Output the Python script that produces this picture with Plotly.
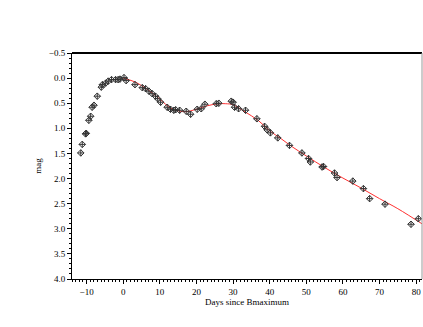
import plotly.graph_objects as go

# observed photometry (days since B maximum, magnitude)
days = [-11.6, -11.2, -10.3, -10.1, -9.4, -8.9, -8.5, -8.0, -7.1, -6.0, -5.7, -4.8,
        -4.1, -3.2, -2.1, -1.4, -0.9, 0.2, 0.8, 3.2, 5.2, 6.1, 7.0, 7.9, 8.8, 9.4,
        10.2, 12.0, 12.9, 13.8, 14.3, 15.4, 17.2, 18.4, 20.2, 21.3, 22.3, 25.4,
        26.1, 29.5, 30.0, 30.4, 31.5, 33.4, 36.5, 38.6, 39.3, 40.2, 42.2, 45.4,
        48.8, 50.6, 51.1, 54.3, 54.7, 57.7, 58.4, 62.7, 65.6, 67.3, 71.5, 78.6, 80.6]
mags = [1.49, 1.32, 1.11, 1.10, 0.84, 0.76, 0.58, 0.54, 0.36, 0.18, 0.13, 0.10,
        0.06, 0.03, 0.03, 0.03, 0.02, -0.01, 0.05, 0.13, 0.19, 0.21, 0.26, 0.31, 0.36, 0.41,
        0.48, 0.58, 0.62, 0.64, 0.63, 0.64, 0.66, 0.72, 0.62, 0.61, 0.52, 0.51,
        0.50, 0.46, 0.48, 0.58, 0.61, 0.64, 0.81, 0.96, 1.03, 1.09, 1.19, 1.34,
        1.49, 1.60, 1.67, 1.77, 1.76, 1.89, 1.98, 2.05, 2.20, 2.40, 2.51, 2.91, 2.80]

# template fit
fit_days = [0, 3, 5, 8, 10, 13, 15, 17, 20, 23, 26, 28, 30, 33, 37, 40, 43, 46, 50, 55,
            60, 65, 70, 75, 82]
fit_mags = [0.0, 0.07, 0.15, 0.30, 0.42, 0.60, 0.65, 0.67, 0.62, 0.55, 0.51, 0.51, 0.53,
            0.66, 0.85, 1.05, 1.20, 1.36, 1.55, 1.78, 1.99, 2.19, 2.40, 2.60, 2.92]

fig = go.Figure()
fig.add_trace(go.Scatter(x=fit_days, y=fit_mags, mode="lines",
                         line=dict(color="#ff3030", width=1), line_shape="spline",
                         showlegend=False))
fig.add_trace(go.Scatter(x=days, y=mags, mode="markers",
                         marker=dict(symbol="diamond-cross-open", size=5,
                                     color="#333333", line=dict(width=1)),
                         showlegend=False))

font = dict(family="Liberation Serif", size=9, color="black")
fig.update_layout(
    width=423, height=327,
    margin=dict(l=72, r=1, t=53, b=48, autoexpand=False),
    plot_bgcolor="white", paper_bgcolor="white",
    font=font,
    xaxis=dict(range=[-14, 81.6], tickvals=[-10, 0, 10, 20, 30, 40, 50, 60, 70, 80],
               tickfont=font,
               ticks="outside", ticklen=4, tickcolor="black", showgrid=False, zeroline=False,
               showline=True, linecolor="black", linewidth=1,
               minor=dict(dtick=1, tick0=0, ticks="outside", ticklen=2, tickcolor="black"),
               title=dict(text="Days since Bmaximum", standoff=0, font=font)),
    yaxis=dict(range=[4.0, -0.5], tickvals=[-0.5, 0, 0.5, 1, 1.5, 2, 2.5, 3, 3.5, 4],
               tickformat=".1f", tickfont=font,
               ticks="outside", ticklen=4, tickcolor="black", showgrid=False, zeroline=False,
               showline=True, linecolor="black", linewidth=1,
               minor=dict(dtick=0.1, ticks="outside", ticklen=2, tickcolor="black"),
               title=dict(text="mag", standoff=5, font=font)),
    shapes=[
        dict(type="line", xref="paper", yref="paper", x0=0, x1=1, y0=1, y1=1,
             line=dict(color="black", width=2)),
        dict(type="line", xref="paper", yref="paper", x0=1, x1=1, y0=0, y1=1,
             line=dict(color="#999999", width=1)),
    ],
)

# drop the default page margin so the figure sits at the window's corner
fig.write_html(
    "out.html",
    config={"displayModeBar": False},
    post_script="document.body.style.margin='0';document.body.style.overflow='hidden';",
)
